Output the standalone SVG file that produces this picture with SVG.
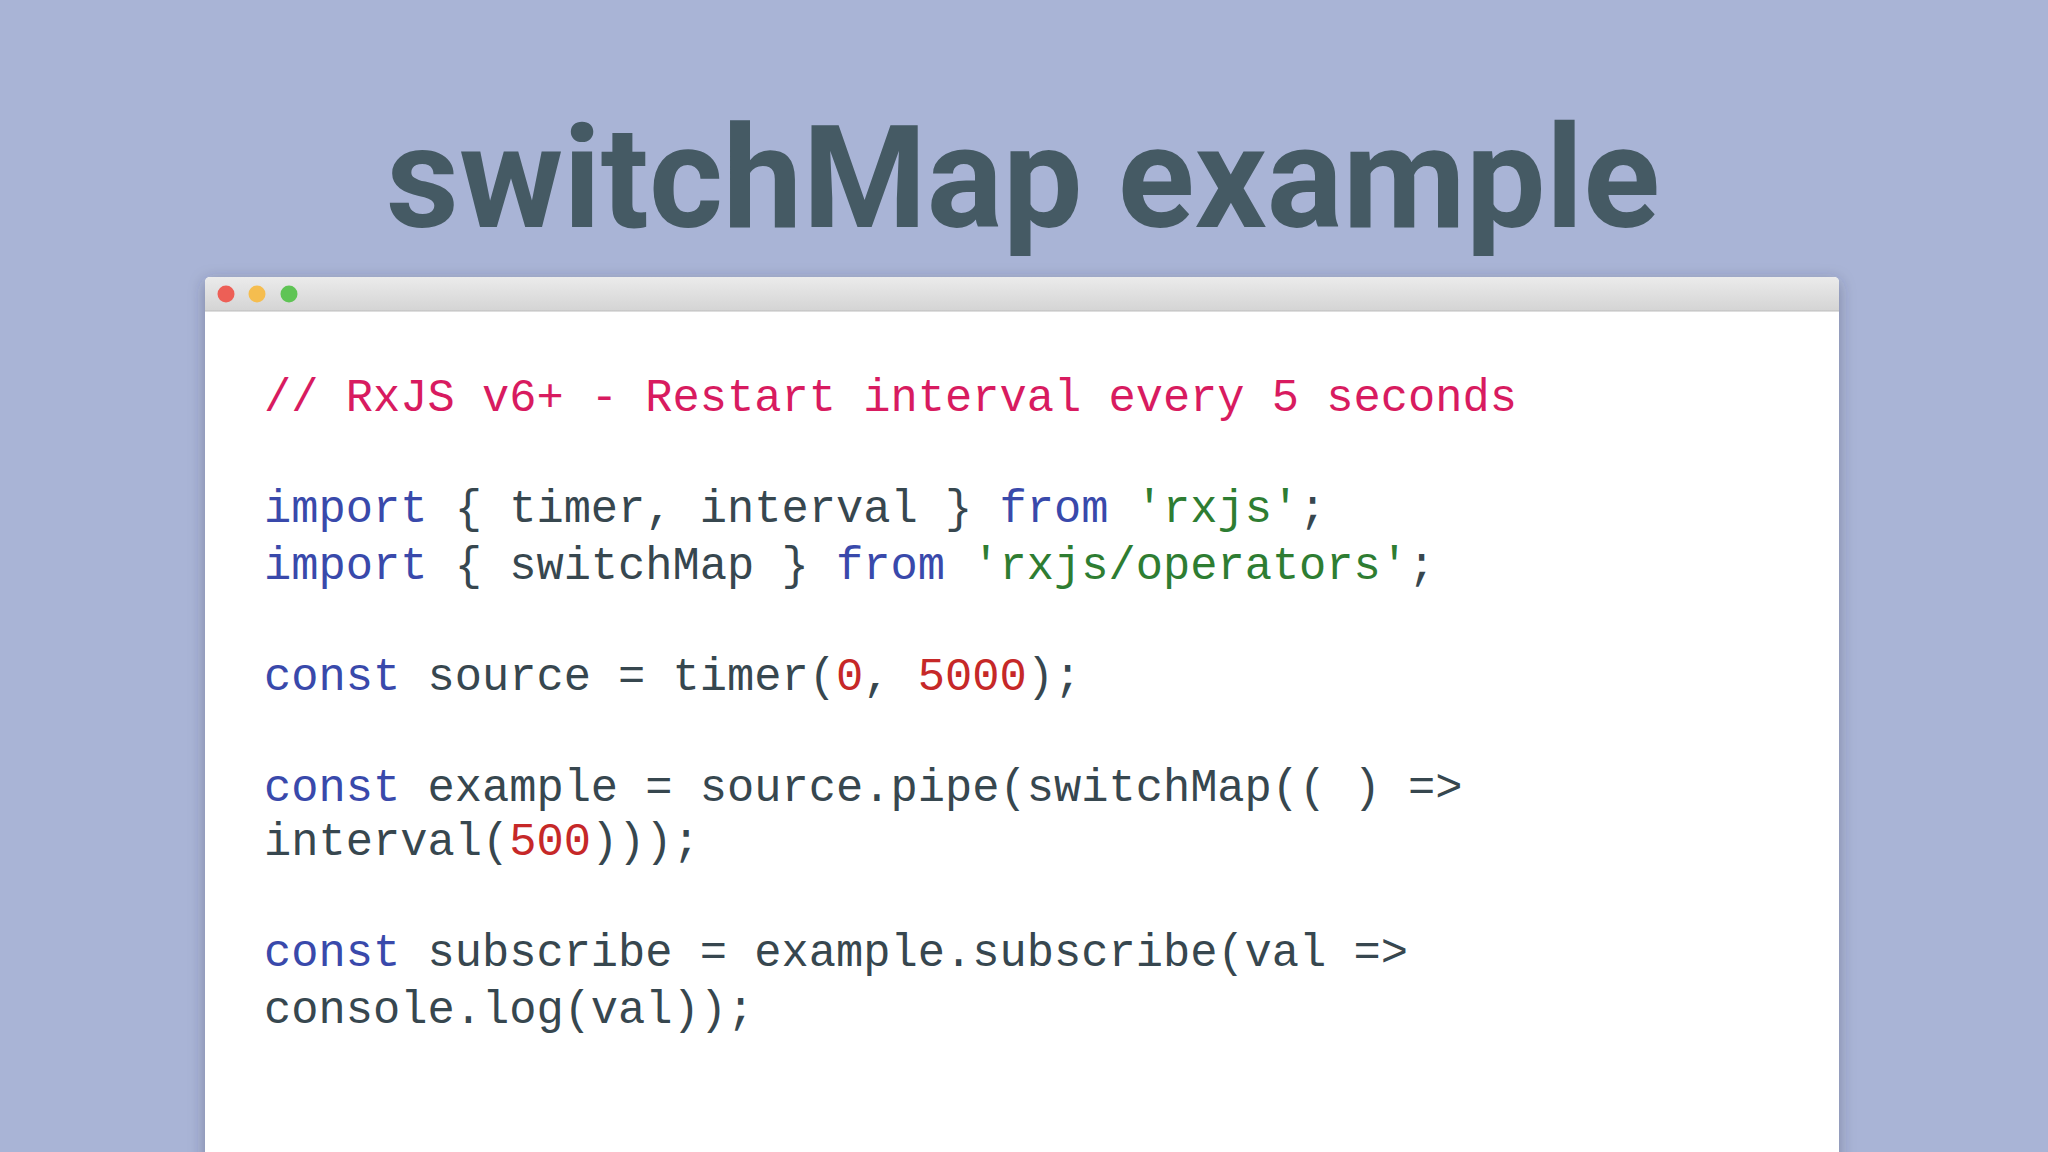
<svg xmlns="http://www.w3.org/2000/svg" width="2048" height="1152" viewBox="0 0 2048 1152">
<defs>
<linearGradient id="bar" x1="0" y1="0" x2="0" y2="1"><stop offset="0" stop-color="#ebebeb"/><stop offset="1" stop-color="#d4d4d4"/></linearGradient>
<filter id="sh" x="-5%" y="-5%" width="110%" height="110%"><feDropShadow dx="0" dy="4" stdDeviation="8" flood-color="#334" flood-opacity="0.35"/></filter>
<style>
.code{font-family:"Liberation Mono","DejaVu Sans Mono",monospace;font-size:45.4px;fill:#37474f}
.k{fill:#3949ab}.s{fill:#2e7d32}.n{fill:#c62828}.c{fill:#d81b60}
</style>
</defs>
<rect width="2048" height="1152" fill="#a9b4d6"/>
<text x="1023" y="227" text-anchor="middle" font-family="Roboto,'Liberation Sans',sans-serif" font-weight="bold" font-size="142" fill="#455a64">switchMap example</text>
<g id="window" filter="url(#sh)">
<rect x="205" y="277" width="1634" height="900" rx="5" fill="#ffffff"/>
<path d="M205 311 V282 a5 5 0 0 1 5 -5 H1834 a5 5 0 0 1 5 5 V311 Z" fill="url(#bar)"/>
<line x1="205" y1="311" x2="1839" y2="311" stroke="#bdbdbd"/>
<circle cx="226" cy="294" r="8.5" fill="#ed5f57"/>
<circle cx="257" cy="294" r="8.5" fill="#f5bd4f"/>
<circle cx="289" cy="294" r="8.5" fill="#5fc454"/>
</g>
<g id="code" class="code" xml:space="preserve">
<text x="264" y="411" class="c">// RxJS v6+ - Restart interval every 5 seconds</text>
<text x="264" y="522"><tspan class="k">import</tspan> { timer, interval } <tspan class="k">from</tspan> <tspan class="s">'rxjs'</tspan>;</text>
<text x="264" y="579"><tspan class="k">import</tspan> { switchMap } <tspan class="k">from</tspan> <tspan class="s">'rxjs/operators'</tspan>;</text>
<text x="264" y="690"><tspan class="k">const</tspan> source = timer(<tspan class="n">0</tspan>, <tspan class="n">5000</tspan>);</text>
<text x="264" y="801"><tspan class="k">const</tspan> example = source.pipe(switchMap(( ) =&gt;</text>
<text x="264" y="855">interval(<tspan class="n">500</tspan>)));</text>
<text x="264" y="966"><tspan class="k">const</tspan> subscribe = example.subscribe(val =&gt;</text>
<text x="264" y="1023">console.log(val));</text>
</g>
</svg>
